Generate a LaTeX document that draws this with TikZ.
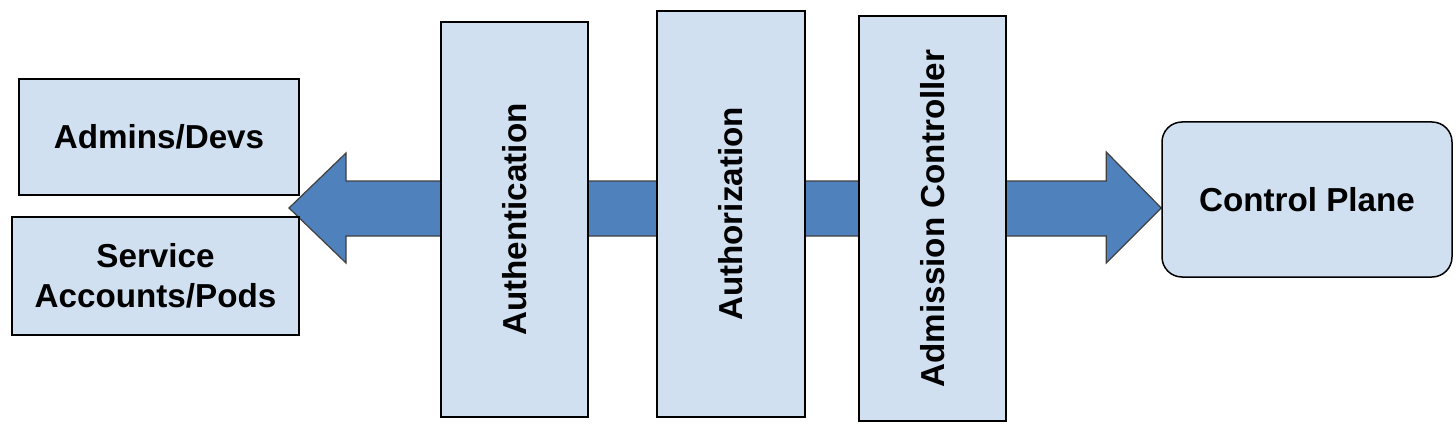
\documentclass[tikz,border=0pt]{standalone}
\usepackage{fontspec}
\setmainfont{Liberation Sans}
\usetikzlibrary{calc,backgrounds}
\definecolor{boxfill}{HTML}{D0E0F0}
\definecolor{flowblue}{HTML}{4F81BD}
\begin{document}
\begin{tikzpicture}[x=0.5pt, y=-0.5pt,
    font=\fontsize{16.6}{20}\selectfont\bfseries,
    stage/.style={draw=black, fill=boxfill, line width=0.75pt, inner sep=0pt, align=center},
    flow/.style={draw=black!75, fill=flowblue, line width=0.6pt, line join=miter}]

    \useasboundingbox (0,0) rectangle (1456,433);

    % Chi fa la richiesta
    \node[stage, minimum width=140pt, minimum height=58pt] (admins) at (159,137) {Admins/Devs};
    \node[stage, minimum width=143.5pt, minimum height=59pt] (service) at (155.5,276) {Service\\Accounts/Pods};

    % Fasi del controllo
    \node[stage, rotate=90, minimum width=197.5pt, minimum height=73.5pt] (authn) at (514.5,219.5) {Authentication};
    \node[stage, rotate=90, minimum width=203pt, minimum height=74pt] (authz) at (731,214) {Authorization};
    \node[stage, rotate=90, minimum width=202.5pt, minimum height=73.5pt] (admission) at (932.5,218.5) {Admission Controller};

    % Destinazione
    \node[stage, rounded corners=10pt, minimum width=145pt, minimum height=77.5pt] (cp) at (1307,199.5) {Control Plane};

    % Punte delle frecce
    \coordinate (tipL) at (289,208);
    \coordinate (tipR) at (cp.west |- tipL);

    % Freccia di flusso (dietro i blocchi)
    \begin{scope}[on background layer]
        \draw[flow] (tipL) -- ++(57,-55) -- ++(0,28) -- ($(tipR)+(-55,-27)$) -- ++(0,-29)
            -- (tipR) -- ++(-55,55) -- ++(0,-27) -- ($(tipL)+(57,28)$) -- ++(0,27) -- cycle;
    \end{scope}

\end{tikzpicture}
\end{document}
